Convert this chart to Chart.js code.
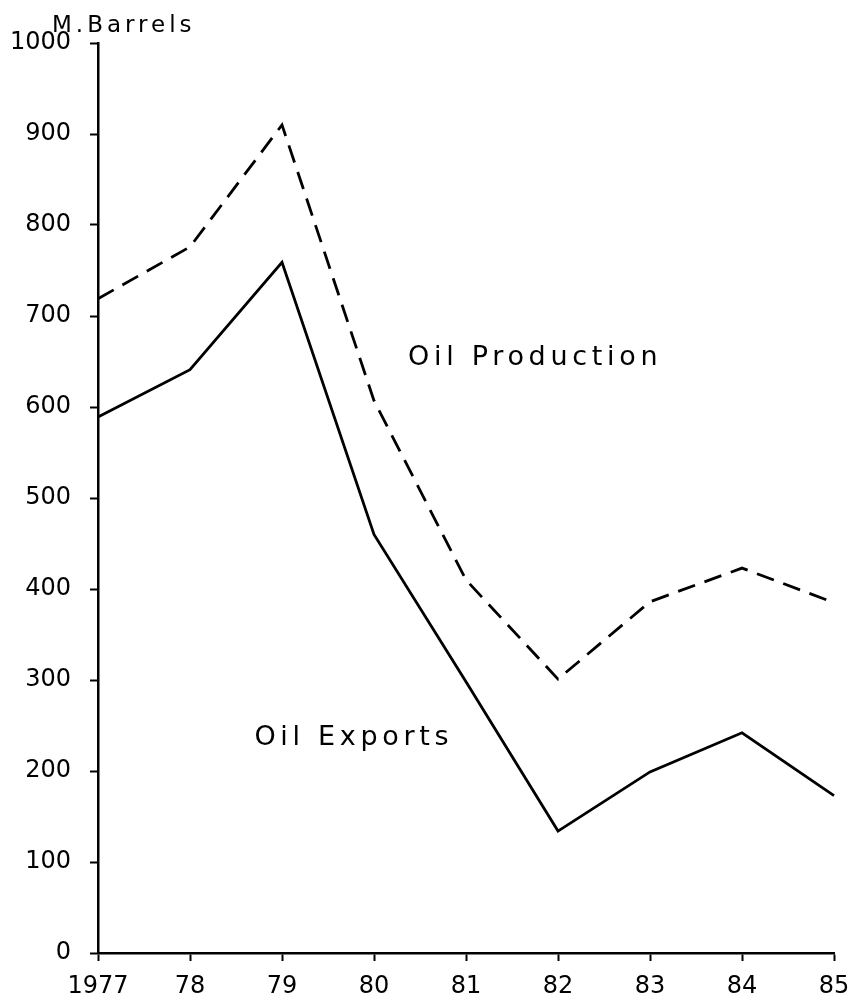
<!DOCTYPE html>
<html>
<head>
<meta charset="utf-8">
<script src="https://cdn.jsdelivr.net/npm/chart.js@4.4.1/dist/chart.umd.min.js"></script>
<style>
  html, body { margin: 0; padding: 0; background: #fff; }
  #wrap { width: 852px; height: 1002px; position: relative; }
</style>
</head>
<body>
<div id="wrap"><canvas id="c" width="852" height="1002"></canvas></div>
<script>
const years = ['1977', '78', '79', '80', '81', '82', '83', '84', '85'];
const oilProduction = [719, 776, 910, 607, 410, 301, 386, 423, 385];
const oilExports = [589, 641, 759, 460, 298, 134, 199, 242, 173];
const yTicks = [0, 100, 200, 300, 400, 500, 600, 700, 800, 900, 1000];
const unitLabel = 'M.Barrels';
const notes = [
  { text: 'Oil Production', x: 3.37, y: 646 },
  { text: 'Oil Exports', x: 1.70, y: 229 }
];

const FONT = '"DejaVu Sans", sans-serif';

const textPlugin = {
  id: 'texts',
  afterDraw(chart) {
    const ctx = chart.ctx;
    const xs = chart.scales.x, ys = chart.scales.y;
    ctx.save();
    ctx.fillStyle = '#000';
    ctx.textBaseline = 'alphabetic';
    ctx.textAlign = 'left';
    ctx.font = '27px ' + FONT;
    ctx.letterSpacing = '4.7px';
    notes.forEach(n => {
      ctx.fillText(n.text, xs.getPixelForValue(n.x), ys.getPixelForValue(n.y));
    });
    ctx.font = '23px ' + FONT;
    ctx.letterSpacing = '4px';
    ctx.fillText(unitLabel, 52, 32);
    ctx.restore();
  }
};

new Chart(document.getElementById('c'), {
  type: 'line',
  data: {
    labels: years,
    datasets: [
      {
        label: 'Oil Production',
        data: oilProduction,
        borderColor: '#000',
        borderWidth: 2.8,
        borderDash: [18, 10],
        pointRadius: 0,
        tension: 0,
        fill: false
      },
      {
        label: 'Oil Exports',
        data: oilExports,
        borderColor: '#000',
        borderWidth: 2.8,
        pointRadius: 0,
        tension: 0,
        fill: false
      }
    ]
  },
  options: {
    responsive: false,
    animation: false,
    devicePixelRatio: 1,
    layout: { autoPadding: false, padding: { left: 0, top: 43, right: 18, bottom: 0 } },
    plugins: { legend: { display: false }, tooltip: { enabled: false } },
    scales: {
      x: {
        type: 'category',
        offset: false,
        grid: { drawOnChartArea: false, drawTicks: true, tickLength: 8, tickWidth: 2, color: '#000' },
        border: { display: true, color: '#000', width: 2.5 },
        ticks: { color: '#000', font: { family: FONT, size: 24 }, padding: 11, maxRotation: 0, autoSkip: false },
        afterFit(s) { s.height = 49; s.paddingLeft = 0; s.paddingRight = 0; }
      },
      y: {
        min: 0,
        max: 1000,
        afterBuildTicks(s) { s.ticks = yTicks.map(v => ({ value: v })); },
        grid: { drawOnChartArea: false, drawTicks: true, tickLength: 8, tickWidth: 2, color: '#000' },
        border: { display: true, color: '#000', width: 2.5 },
        ticks: { color: '#000', font: { family: FONT, size: 24 }, padding: 19, callback: v => String(v) },
        afterFit(s) { s.width = 98; s.paddingTop = 0; s.paddingBottom = 0; }
      }
    }
  },
  plugins: [textPlugin]
});
</script>
</body>
</html>
